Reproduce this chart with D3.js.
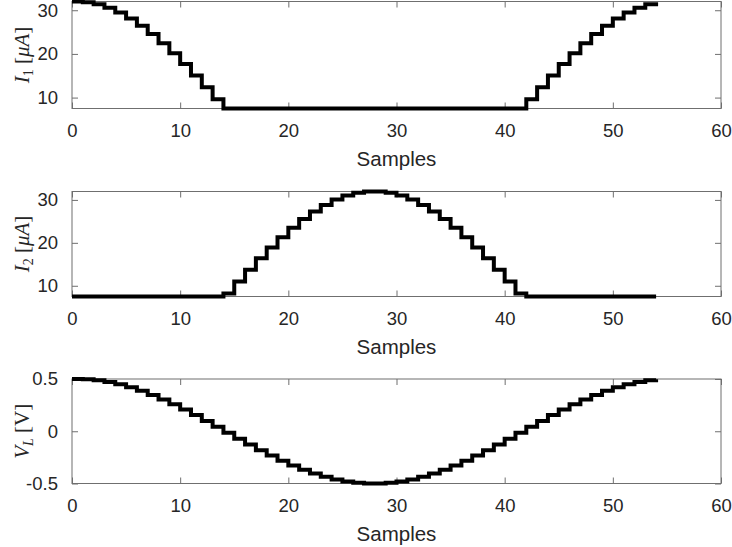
<!DOCTYPE html>
<html>
<head>
<meta charset="utf-8">
<script src="https://cdn.jsdelivr.net/npm/d3@7"></script>
<style>
  body { margin: 0; background: #fff; }
  svg { display: block; }
  .tick text { font-family: "Liberation Sans", Arial, sans-serif; }
</style>
</head>
<body>
<div id="graph"></div>
<script>
// sample index (x axis)
var samples = d3.range(0, 55);

// I1 [uA]
var current1 = [32.00, 31.84, 31.36, 30.58, 29.49, 28.11, 26.47, 24.57, 22.46, 20.15,
  17.68, 15.07, 12.37, 9.60, 7.5, 7.5, 7.5, 7.5, 7.5, 7.5,
  7.5, 7.5, 7.5, 7.5, 7.5, 7.5, 7.5, 7.5, 7.5, 7.5,
  7.5, 7.5, 7.5, 7.5, 7.5, 7.5, 7.5, 7.5, 7.5, 7.5,
  7.5, 7.5, 9.60, 12.37, 15.07, 17.68, 20.15, 22.46, 24.57, 26.47,
  28.11, 29.49, 30.58, 31.36, 31.84];

// I2 [uA]
var current2 = [7.5, 7.5, 7.5, 7.5, 7.5, 7.5, 7.5, 7.5, 7.5, 7.5,
  7.5, 7.5, 7.5, 7.5, 8.20, 10.99, 13.73, 16.39, 18.93, 21.33,
  23.54, 25.55, 27.32, 28.83, 30.07, 31.01, 31.64, 31.96, 31.96, 31.64,
  31.01, 30.07, 28.83, 27.32, 25.55, 23.54, 21.33, 18.93, 16.39, 13.73,
  10.99, 8.20, 7.5, 7.5, 7.5, 7.5, 7.5, 7.5, 7.5, 7.5,
  7.5, 7.5, 7.5, 7.5, 7.5];

// VL [V]
var voltage = [0.500, 0.497, 0.487, 0.471, 0.449, 0.421, 0.387, 0.348, 0.305, 0.258,
  0.208, 0.155, 0.099, 0.043, -0.014, -0.071, -0.127, -0.181, -0.233, -0.282,
  -0.327, -0.368, -0.405, -0.435, -0.461, -0.480, -0.493, -0.499, -0.499, -0.493,
  -0.480, -0.461, -0.435, -0.405, -0.368, -0.327, -0.282, -0.233, -0.181, -0.127,
  -0.071, -0.014, 0.043, 0.099, 0.155, 0.208, 0.258, 0.305, 0.348, 0.387,
  0.421, 0.449, 0.471, 0.487, 0.497];

var xTicks = [0, 10, 20, 30, 40, 50, 60];
var currentTicks = [10, 20, 30];
var voltageTicks = [-0.5, 0, 0.5];

var width = 732, height = 547;
var left = 72, right = 721;
var axisColor = "#6f6f6f", textColor = "#262626";

var svg = d3.select("#graph").append("svg")
    .attr("width", width)
    .attr("height", height);

var x = d3.scaleLinear().domain([0, 60]).range([left, right]);

var panels = [
  { values: current1, domain: [7.5, 32], ticks: currentTicks, fmt: d3.format("d"),
    top: 1.5, bottom: 108.5, label: ["I", "1", "μA"] },
  { values: current2, domain: [7.5, 31.96], ticks: currentTicks, fmt: d3.format("d"),
    top: 191.5, bottom: 296.5, label: ["I", "2", "μA"] },
  { values: voltage, domain: [-0.5, 0.5], ticks: voltageTicks, fmt: function(d) { return d === 0 ? "0" : String(d); },
    top: 379, bottom: 483.5, label: ["V", "L", "V"] }
];

panels.forEach(function(p) {
  var y = d3.scaleLinear().domain(p.domain).range([p.bottom, p.top]);
  var g = svg.append("g");

  // bottom axis with labels
  g.append("g")
      .attr("transform", "translate(0," + p.bottom + ")")
      .call(d3.axisBottom(x).tickValues(xTicks).tickSizeInner(-6).tickSizeOuter(0).tickPadding(15.5));
  // top mirrored ticks
  g.append("g")
      .attr("transform", "translate(0," + p.top + ")")
      .call(d3.axisTop(x).tickValues(xTicks).tickSizeInner(-6).tickSizeOuter(0).tickFormat(""));
  // left axis with labels
  g.append("g")
      .attr("transform", "translate(" + left + ",0)")
      .call(d3.axisLeft(y).tickValues(p.ticks).tickFormat(p.fmt).tickSizeInner(-6).tickSizeOuter(0).tickPadding(14));
  // right mirrored ticks
  g.append("g")
      .attr("transform", "translate(" + right + ",0)")
      .call(d3.axisRight(y).tickValues(p.ticks).tickSizeInner(-6).tickSizeOuter(0).tickFormat(""));

  g.selectAll(".domain").remove();
  g.selectAll(".tick line").attr("stroke", axisColor);
  g.selectAll(".tick text").attr("fill", textColor).style("font-size", "18.5px");

  // box
  g.append("rect")
      .attr("x", left).attr("y", p.top)
      .attr("width", right - left).attr("height", p.bottom - p.top)
      .attr("fill", "none").attr("stroke", axisColor).attr("stroke-width", 1);

  // stairs
  var line = d3.line()
      .x(function(d, i) { return x(samples[i]); })
      .y(function(d) { return y(d); })
      .curve(d3.curveStepAfter);
  g.append("path")
      .datum(p.values)
      .attr("d", line)
      .attr("fill", "none")
      .attr("stroke", "#000")
      .attr("stroke-width", 4)
      .attr("stroke-linejoin", "miter");

  // x label
  g.append("text")
      .attr("x", (left + right) / 2)
      .attr("y", p.bottom + 57)
      .attr("text-anchor", "middle")
      .attr("fill", textColor)
      .style("font-family", "'Liberation Sans', Arial, sans-serif")
      .style("font-size", "20.5px")
      .text("Samples");

  // y label (LaTeX style)
  var yl = g.append("text")
      .attr("transform", "translate(29," + (p.top + p.bottom) / 2 + ") rotate(-90)")
      .attr("text-anchor", "middle")
      .attr("fill", textColor)
      .style("font-family", "'Liberation Serif', 'DejaVu Serif', serif")
      .style("font-size", "21px");
  yl.append("tspan").style("font-style", "italic").text(p.label[0]);
  yl.append("tspan").attr("dy", 4).style("font-size", "14px")
      .style("font-style", p.label[1] === "L" ? "italic" : "normal").text(p.label[1]);
  yl.append("tspan").attr("dy", -4).text(" [");
  if (p.label[2] === "μA") {
    yl.append("tspan").style("font-style", "italic").text("μA");
  } else {
    yl.append("tspan").text("V");
  }
  yl.append("tspan").text("]");
});
</script>
</body>
</html>
